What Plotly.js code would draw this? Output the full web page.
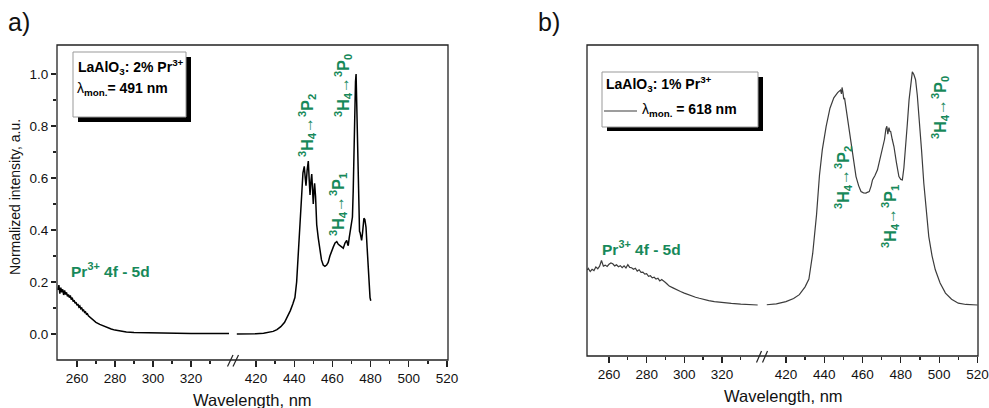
<!DOCTYPE html>
<html>
<head>
<meta charset="utf-8">
<script src="https://cdn.plot.ly/plotly-3.0.1.min.js"></script>
<style>html,body{margin:0;padding:0;background:#fff}#chart{width:989px;height:408px}</style>
</head>
<body>
<div id="chart"></div>
<script>
// ---------- Data ----------
// Panel a) LaAlO3: 2% Pr3+, λmon = 491 nm — UV part (4f-5d)
const aUvNm = [250,250.5,251,251.5,252,252.5,253,253.5,254,254.5,255,255.5,256,256.5,257,257.5,258,258.5,259,259.5,260,260.5,261,261.5,262,262.5,263,263.5,264,264.5,265,265.5,266,267,268,269,270,272,274,276,278,280,283,286,290,295,300,310,320,330,340];
const aUvInt = [0.17,0.188,0.155,0.178,0.16,0.172,0.15,0.168,0.152,0.16,0.145,0.152,0.14,0.148,0.132,0.14,0.125,0.13,0.118,0.122,0.11,0.115,0.104,0.108,0.097,0.1,0.09,0.092,0.083,0.085,0.076,0.078,0.07,0.063,0.056,0.05,0.045,0.037,0.03,0.024,0.019,0.015,0.011,0.008,0.006,0.005,0.004,0.003,0.002,0.002,0.002];
// Panel a) visible part (3H4 -> 3PJ)
const aVisNm = [410,415,420,424,427,429,431,433,435,436.5,438,439.3,440.4,441.3,442.2,443.0,443.9,444.6,445.3,445.8,446.2,446.8,447.4,447.9,448.3,448.8,449.2,449.6,450.0,450.4,450.7,451.2,451.8,452.6,453.5,454.3,455.2,456.1,457.0,457.8,458.7,459.6,460.5,461.4,462.3,463.1,464.0,464.9,465.7,466.6,467.5,468.0,468.3,468.8,469.2,469.6,470.1,470.5,470.9,471.3,471.7,472.1,472.4,472.7,473.0,473.4,473.8,474.2,474.5,474.9,475.3,475.8,476.2,476.5,477.0,477.6,478.2,478.8,479.3,479.7,480.1];
const aVisInt = [0.0,0.0,0.001,0.003,0.006,0.01,0.017,0.028,0.045,0.065,0.09,0.115,0.14,0.2,0.3,0.41,0.53,0.62,0.645,0.6,0.57,0.63,0.665,0.59,0.535,0.59,0.615,0.56,0.5,0.55,0.58,0.53,0.42,0.37,0.32,0.285,0.265,0.26,0.265,0.275,0.3,0.32,0.335,0.35,0.355,0.345,0.34,0.335,0.33,0.35,0.36,0.345,0.34,0.37,0.39,0.41,0.42,0.45,0.55,0.72,0.88,0.97,1.0,0.9,0.75,0.56,0.42,0.395,0.39,0.37,0.36,0.39,0.43,0.445,0.44,0.41,0.33,0.23,0.17,0.14,0.128];

// Panel b) LaAlO3: 1% Pr3+, λmon = 618 nm — UV part
const bUvNm = [248.5,249,250,251,252,253,254,255,256,256.5,257,258,259,260,261,262,263,264,265,266,267,268,269,270,271,272,273,274,275,276,277,278,279,280,281,282,283,284,285,286,287,288,289,290,291,292,294,296,298,300,302,304,306,308,310,313,316,320,325,330,335,339];
const bUvInt = [0.235,0.241,0.229,0.238,0.233,0.247,0.24,0.25,0.272,0.258,0.25,0.254,0.249,0.257,0.262,0.259,0.251,0.255,0.248,0.252,0.244,0.251,0.243,0.256,0.245,0.244,0.238,0.242,0.231,0.236,0.226,0.227,0.219,0.221,0.211,0.213,0.205,0.207,0.2,0.203,0.193,0.198,0.194,0.187,0.18,0.173,0.166,0.158,0.152,0.146,0.14,0.135,0.13,0.126,0.122,0.117,0.113,0.109,0.106,0.103,0.101,0.1];
// Panel b) visible part
const bVisNm = [410,415,420,424,427,430,432,434,436,437.5,439,441,443,445,447,448,448.5,449,449.3,449.8,450.2,450.6,451,452,453,454,454.8,455.7,456.6,458,459.2,460.5,461.8,462.5,463.5,464.5,465.2,466.5,467,467.8,469,470.4,471.5,472.2,472.7,473.2,473.8,474.3,474.7,475.5,476.4,477.7,479,480,480.8,481.6,482.5,483.4,484.3,485.2,486,486.8,487.7,488.6,489.5,490.8,492,493.3,494.6,496.3,498,500.5,503.3,506.5,510,514,518.7,520];
const bVisInt = [0.101,0.104,0.113,0.125,0.14,0.17,0.2,0.3,0.45,0.6,0.7,0.79,0.86,0.9,0.92,0.925,0.93,0.915,0.94,0.92,0.895,0.9,0.88,0.84,0.79,0.74,0.686,0.64,0.596,0.56,0.538,0.533,0.532,0.535,0.538,0.56,0.583,0.6,0.61,0.622,0.66,0.70,0.74,0.78,0.79,0.76,0.785,0.77,0.77,0.74,0.712,0.65,0.596,0.585,0.583,0.63,0.70,0.8,0.892,0.96,1.0,0.99,0.97,0.91,0.83,0.7,0.57,0.46,0.364,0.29,0.236,0.185,0.146,0.122,0.107,0.102,0.1,0.1];

// Tick labels
const xTicksUv = [260,280,300,320];
const xTicksVis = [420,440,460,480,500,520];
const xMinorUv = [270,290,310,330];
const xMinorVis = [430,450,470,490,510];
const yTicksA = [0.0,0.2,0.4,0.6,0.8,1.0];
const yMinorA = [0.1,0.3,0.5,0.7,0.9];

// ---------- Layout helpers ----------
const W = 989, H = 408;
const X = px => px / W;
const Y = py => 1 - py / H;
const FONT = 'Arial, "Liberation Sans", sans-serif';
const GREEN = '#17895a';
const AXC = '#222';

function xAxis(domain, range, ticks, minor, anchor) {
  return {
    domain: domain, range: range, anchor: anchor,
    showgrid: false, zeroline: false, showline: false,
    tickmode: 'array', tickvals: ticks, ticktext: ticks.map(String),
    ticks: 'outside', ticklen: 6, tickwidth: 1.2, tickcolor: AXC,
    tickfont: {family: FONT, size: 13.5, color: '#111'},
    minor: {tickmode: 'array', tickvals: minor, ticks: 'outside', ticklen: 3, tickwidth: 1.2, tickcolor: AXC},
    fixedrange: true
  };
}

const traces = [
  {x: aUvNm, y: aUvInt, xaxis: 'x', yaxis: 'y', mode: 'lines', line: {color: '#000', width: 1.5}, showlegend: false, hoverinfo: 'skip'},
  {x: aVisNm, y: aVisInt, xaxis: 'x2', yaxis: 'y', mode: 'lines', line: {color: '#000', width: 1.5}, showlegend: false, hoverinfo: 'skip'},
  {x: bUvNm, y: bUvInt, xaxis: 'x3', yaxis: 'y2', mode: 'lines', line: {color: '#3c3c3c', width: 1.2}, showlegend: false, hoverinfo: 'skip'},
  {x: bVisNm, y: bVisInt, xaxis: 'x4', yaxis: 'y2', mode: 'lines', line: {color: '#3c3c3c', width: 1.2}, showlegend: false, hoverinfo: 'skip'}
];

const trans = j => '<b><sup>3</sup>H<sub>4</sub>→<sup>3</sup>P<sub>' + j + '</sub></b>';
function gAnn(px, py, text, angle, size, anchor) {
  return {xref: 'paper', yref: 'paper', x: X(px), y: Y(py), text: text, showarrow: false,
    textangle: angle, xanchor: anchor || 'center', yanchor: 'middle',
    font: {family: FONT, size: size, color: GREEN}};
}
function tAnn(px, py, text, size, anchor, color, angle) {
  return {xref: 'paper', yref: 'paper', x: X(px), y: Y(py), text: text, showarrow: false,
    textangle: angle || 0, xanchor: anchor || 'center', yanchor: 'middle',
    font: {family: FONT, size: size, color: color || '#111'}};
}

const annotations = [
  tAnn(19, 22, 'a)', 25, 'center', '#111'),
  tAnn(549, 22, 'b)', 25, 'center', '#111'),
  tAnn(15, 197, 'Normalized intensity, a.u.', 14, 'center', '#111', -90),
  tAnn(252, 400, 'Wavelength, nm', 16.5),
  tAnn(783, 396, 'Wavelength, nm', 16.5),
  // legend a
  tAnn(76, 67, '<b>LaAlO<sub>3</sub>: 2% Pr<sup>3+</sup></b>', 14, 'left', '#000'),
  tAnn(75, 89, 'λ<sub><b>mon.</b></sub><b>= 491 nm</b>', 14, 'left', '#000'),
  // legend b
  tAnn(604, 84, '<b>LaAlO<sub>3</sub>: 1% Pr<sup>3+</sup></b>', 14, 'left', '#000'),
  tAnn(640, 110, 'λ<sub><b>mon.</b></sub><b> = 618 nm</b>', 14, 'left', '#000'),
  // green labels panel a
  gAnn(69, 270, '<b>Pr<sup>3+</sup> 4f - 5d</b>', 0, 15.5, 'left'),
  gAnn(307, 126, trans(2), -90, 16),
  gAnn(338, 205, trans(1), -90, 16),
  gAnn(343, 86, trans(0), -90, 16),
  // green labels panel b
  gAnn(600, 248, '<b>Pr<sup>3+</sup> 4f - 5d</b>', 0, 15.5, 'left'),
  gAnn(843, 178, trans(2), -90, 16),
  gAnn(890, 217, trans(1), -90, 16),
  gAnn(940, 108, trans(0), -90, 16)
];

function rect(x0, y0, x1, y1, line, fill) {
  return {type: 'rect', xref: 'paper', yref: 'paper', x0: X(x0), x1: X(x1), y0: Y(y0), y1: Y(y1),
    line: line, fillcolor: fill || 'rgba(0,0,0,0)', layer: 'above'};
}
function seg(x0, y0, x1, y1, color, w) {
  return {type: 'line', xref: 'paper', yref: 'paper', x0: X(x0), x1: X(x1), y0: Y(y0), y1: Y(y1),
    line: {color: color, width: w}, layer: 'above'};
}

const shapes = [
  rect(57, 45, 448, 360, {color: AXC, width: 1.3}),
  rect(587, 45, 978, 356, {color: AXC, width: 1.3}),
  // legend a shadow + box
  rect(78, 57, 191, 122, {width: 0}, '#000'),
  rect(73, 52, 186, 117, {color: '#999', width: 1}, '#fff'),
  // legend b shadow + box
  rect(607, 77, 763, 131, {width: 0}, '#000'),
  rect(602, 72, 758, 127, {color: '#999', width: 1}, '#fff'),
  seg(604, 111, 637, 111, '#3c3c3c', 1.2),
  // axis breaks
  seg(227.5, 366.5, 233, 355, AXC, 1.2),
  seg(233, 366.5, 238.5, 355, AXC, 1.2),
  seg(756.5, 362.5, 761.5, 351, AXC, 1.2),
  seg(762.5, 362.5, 767.5, 351, AXC, 1.2)
];

const layout = {
  width: W, height: H,
  margin: {l: 0, r: 0, t: 0, b: 0},
  paper_bgcolor: '#fff', plot_bgcolor: 'rgba(0,0,0,0)',
  showlegend: false,
  xaxis: xAxis([X(57), X(233)], [249.5, 342.1], xTicksUv, xMinorUv, 'y'),
  xaxis2: xAxis([X(233), X(448)], [408, 520.5], xTicksVis, xMinorVis, 'y'),
  xaxis3: xAxis([X(587), X(762)], [248.3, 341.3], xTicksUv, xMinorUv, 'y2'),
  xaxis4: xAxis([X(762), X(978)], [407.5, 520.3], xTicksVis, xMinorVis, 'y2'),
  yaxis: {
    domain: [Y(360), Y(45)], range: [-0.1, 1.1115], anchor: 'x',
    showgrid: false, zeroline: false, showline: false,
    tickmode: 'array', tickvals: yTicksA, ticktext: yTicksA.map(v => v.toFixed(1)),
    ticks: 'outside', ticklen: 5, tickwidth: 1.2, tickcolor: AXC,
    tickfont: {family: FONT, size: 13.5, color: '#111'},
    minor: {tickmode: 'array', tickvals: yMinorA, ticks: 'outside', ticklen: 3, tickwidth: 1.2, tickcolor: AXC},
    fixedrange: true
  },
  yaxis2: {
    domain: [Y(356), Y(45)], range: [-0.097, 1.104], anchor: 'x3',
    showgrid: false, zeroline: false, showline: false, showticklabels: false, ticks: '',
    fixedrange: true
  },
  annotations: annotations,
  shapes: shapes
};

Plotly.newPlot('chart', traces, layout, {staticPlot: true, displayModeBar: false});
</script>
</body>
</html>
